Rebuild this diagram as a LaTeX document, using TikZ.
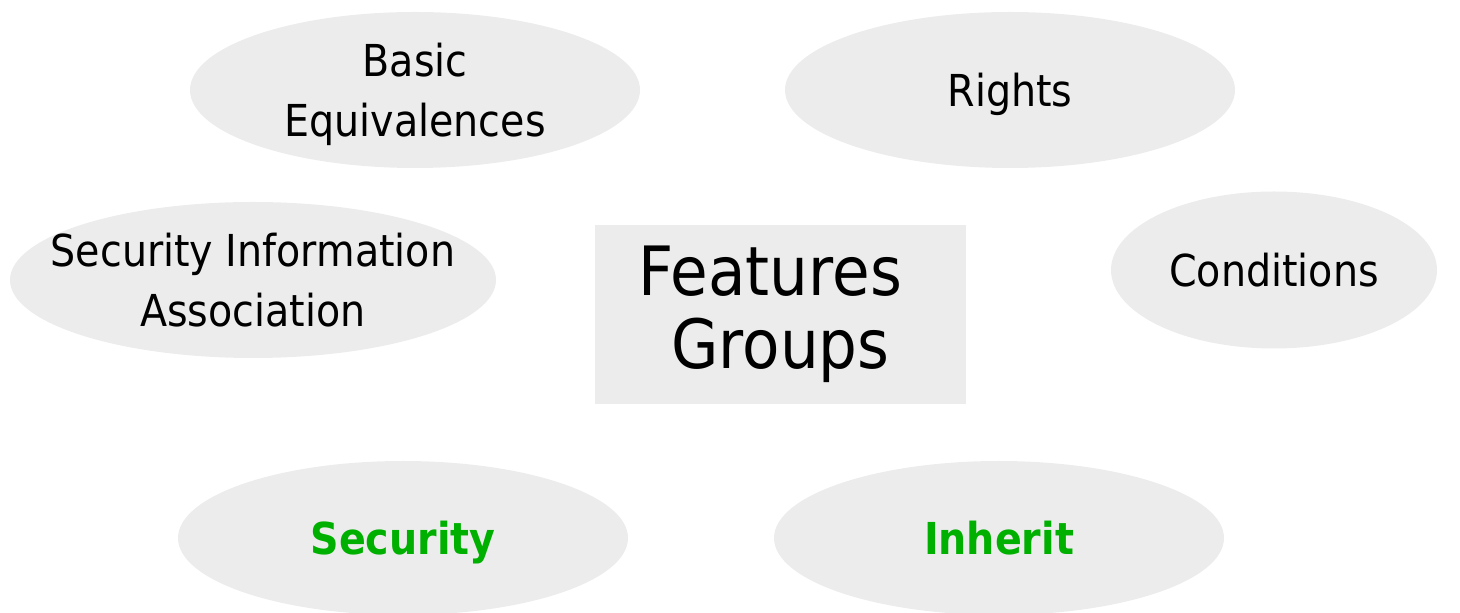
\documentclass[tikz,border=0pt]{standalone}
\usepackage{fontspec}
\setmainfont{DejaVu Sans}[FakeStretch=0.9]
\usetikzlibrary{shapes.geometric}
\definecolor{bubble}{RGB}{236,236,236}
\definecolor{leafgreen}{RGB}{0,176,0}
\tikzset{
  bubble/.style={ellipse, fill=bubble, draw=none, inner sep=-40pt, align=center,
    text depth=0pt, font=\fontsize{22pt}{30pt}\selectfont},
  hot/.style={text=leafgreen, font=\fontsize{22pt}{30pt}\selectfont\bfseries},
  centrebox/.style={rectangle, fill=bubble, draw=none, inner sep=0pt,
    minimum width=185.5pt, minimum height=89.5pt},
  centretext/.style={inner sep=0pt, align=center, text depth=0pt,
    font=\fontsize{34pt}{36.5pt}\selectfont}
}
\begin{document}
\begin{tikzpicture}[x=0.5pt,y=-0.5pt]
\useasboundingbox (0,0) rectangle (1460,613);
\node[bubble, minimum width=225pt, minimum height=78pt] (be) at (415,90) {Basic\\Equivalences};
\node[bubble, minimum width=225pt, minimum height=78pt] (rights) at (1010,90) {Rights};
\node[bubble, minimum width=243pt, minimum height=78pt] (sia) at (253,280) {Security Information\\Association};
\node[bubble, minimum width=163pt, minimum height=78.5pt] (cond) at (1274,270) {Conditions};
\node[bubble, hot, minimum width=225pt, minimum height=77pt] (sec) at (403,538) {Security};
\node[bubble, hot, minimum width=225pt, minimum height=77pt] (inh) at (999,538) {Inherit};
\node[centrebox] (fg) at (780.5,314.5) {};
\node[centretext] (fgt) at (780.5,307) {Features\hspace*{0.3em}\\Groups};
\end{tikzpicture}
\end{document}
